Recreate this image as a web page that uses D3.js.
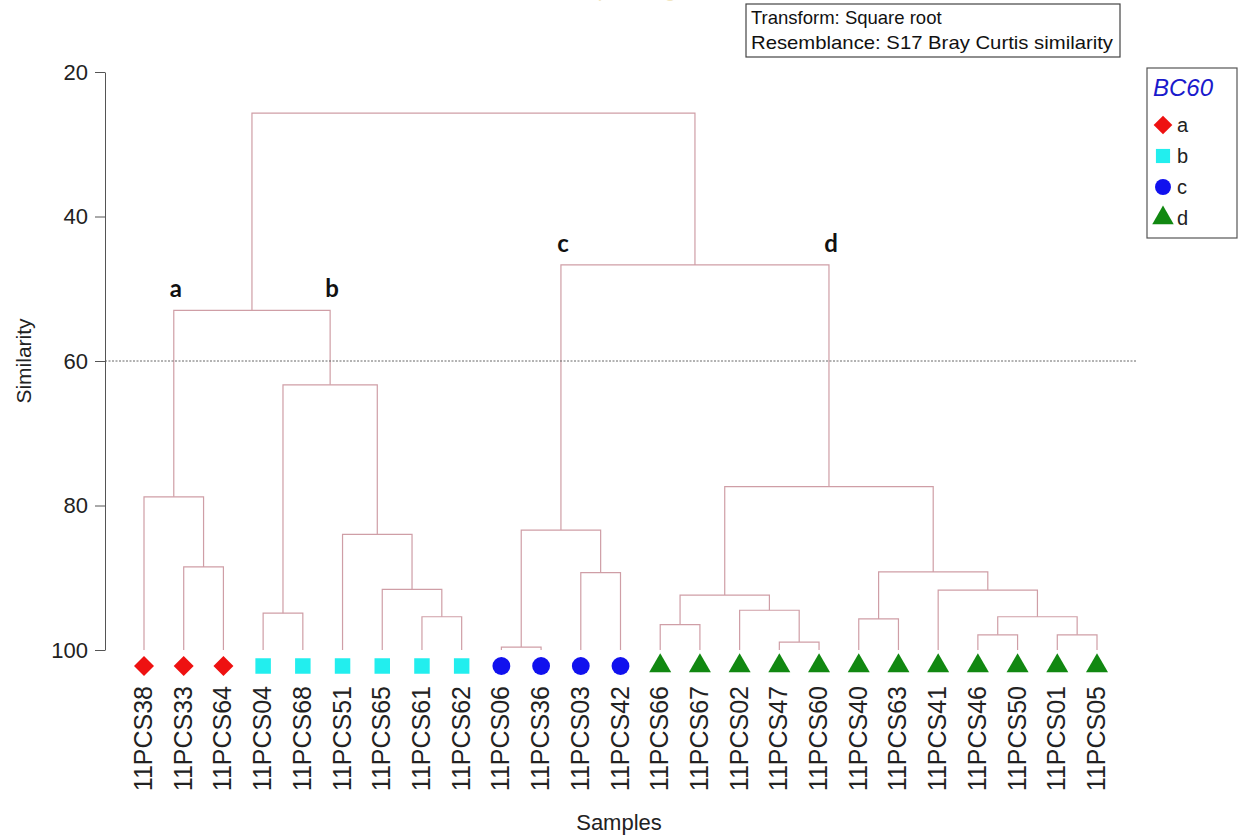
<!DOCTYPE html>
<html>
<head>
<meta charset="utf-8">
<script src="https://cdn.jsdelivr.net/npm/d3@7"></script>
<style>
  body { margin: 0; background: #fff; }
  svg { display: block; font-family: Arial, "Liberation Sans", sans-serif; }
</style>
</head>
<body>
<div id="chart"></div>
<script>
// Leaf order (left to right) and their group
const leaves = ["11PCS38", "11PCS33", "11PCS64", "11PCS04", "11PCS68", "11PCS51", "11PCS65", "11PCS61", "11PCS62",
  "11PCS06", "11PCS36", "11PCS03", "11PCS42", "11PCS66", "11PCS67", "11PCS02", "11PCS47", "11PCS60",
  "11PCS40", "11PCS63", "11PCS41", "11PCS46", "11PCS50", "11PCS01", "11PCS05"];
const leafGroups = ["a", "a", "a", "b", "b", "b", "b", "b", "b",
  "c", "c", "c", "c", "d", "d", "d", "d", "d",
  "d", "d", "d", "d", "d", "d", "d"];

// Merges: [id, left child, right child, similarity]
const merges = [
  ["m1", "11PCS33", "11PCS64", 88.5],
  ["m2", "11PCS38", "m1", 78.8],
  ["m3", "11PCS04", "11PCS68", 94.9],
  ["m4", "11PCS61", "11PCS62", 95.4],
  ["m5", "11PCS65", "m4", 91.6],
  ["m6", "11PCS51", "m5", 84.0],
  ["m7", "m3", "m6", 63.3],
  ["m8", "m2", "m7", 53.0],
  ["m9", "11PCS06", "11PCS36", 99.6],
  ["m10", "11PCS03", "11PCS42", 89.3],
  ["m11", "m9", "m10", 83.4],
  ["m12", "11PCS66", "11PCS67", 96.5],
  ["m13", "11PCS47", "11PCS60", 98.9],
  ["m14", "11PCS02", "m13", 94.5],
  ["m15", "m12", "m14", 92.4],
  ["m16", "11PCS40", "11PCS63", 95.7],
  ["m17", "11PCS46", "11PCS50", 97.9],
  ["m18", "11PCS01", "11PCS05", 97.9],
  ["m19", "m17", "m18", 95.4],
  ["m20", "11PCS41", "m19", 91.7],
  ["m21", "m16", "m20", 89.2],
  ["m22", "m15", "m21", 77.4],
  ["m23", "m11", "m22", 46.7],
  ["m24", "m8", "m23", 25.7]
];

// Cluster labels placed above the node they name
const clusterLabels = [["a", "m2"], ["b", "m7"], ["c", "m11"], ["d", "m22"]];
const groups = ["a", "b", "c", "d"];
const groupColors = ["#ee1111", "#22eeee", "#1111ee", "#118811"];
const groupSymbols = [d3.symbolSquare, d3.symbolSquare, d3.symbolCircle, d3.symbolTriangle];
const groupRotate = [45, 0, 0, 0];
const yTicks = [20, 40, 60, 80, 100];
const cutLevel = 60;

const width = 1239, height = 838;
const lineColor = "#cf9ea6";

const svg = d3.select("#chart").append("svg")
  .attr("width", width)
  .attr("height", height);

const x = d3.scalePoint().domain(leaves).range([144, 1097]);
const y = d3.scaleLinear().domain([20, 100]).range([72, 650]);
const color = d3.scaleOrdinal().domain(groups).range(groupColors);
const shape = d3.scaleOrdinal().domain(groups).range(groupSymbols);
const rot = d3.scaleOrdinal().domain(groups).range(groupRotate);
const symSize = { a: 200, b: 240, c: 250, d: 210 };

// node positions
const pos = new Map();
leaves.forEach(l => pos.set(l, { x: x(l), y: y(100) }));
merges.forEach(([id, a, b, s]) => {
  pos.set(id, { x: (pos.get(a).x + pos.get(b).x) / 2, y: y(s) });
});

// faint title, mostly above the top edge as in the source image
svg.append("text")
  .attr("x", 620).attr("y", -3)
  .attr("text-anchor", "middle")
  .style("font-size", "20px")
  .style("fill", "#f2e6c0")
  .text("Group average");

// dendrogram links
const g = svg.append("g").attr("fill", "none").attr("stroke", lineColor).attr("stroke-width", 1.2);
g.selectAll("path")
  .data(merges)
  .join("path")
  .attr("d", ([id, a, b]) => {
    const p = pos.get(id), pa = pos.get(a), pb = pos.get(b);
    return `M${pa.x},${pa.y}V${p.y}H${pb.x}V${pb.y}`;
  });

// cut line
svg.append("line")
  .attr("x1", 105).attr("x2", 1136)
  .attr("y1", y(cutLevel)).attr("y2", y(cutLevel))
  .attr("stroke", "#666")
  .attr("stroke-width", 1)
  .attr("stroke-dasharray", "2,1.5");

// y axis
const yAxis = svg.append("g")
  .attr("transform", "translate(105,0)")
  .call(d3.axisLeft(y).tickValues(yTicks).tickSize(10).tickSizeOuter(0).tickPadding(7));
yAxis.selectAll("path, line").attr("stroke", "#555");
yAxis.selectAll("text").style("font-size", "22px").style("fill", "#222").style("font-family", "Arial, 'Liberation Sans', sans-serif");

svg.append("text")
  .attr("transform", `translate(31,${y(60)}) rotate(-90)`)
  .attr("text-anchor", "middle")
  .style("font-size", "21px")
  .style("fill", "#222")
  .text("Similarity");

// leaf markers
svg.append("g").selectAll("path")
  .data(leaves)
  .join("path")
  .attr("transform", (d, i) => `translate(${x(d)},666) rotate(${rot(leafGroups[i])})`)
  .attr("d", (d, i) => d3.symbol().type(shape(leafGroups[i])).size(symSize[leafGroups[i]])())
  .attr("fill", (d, i) => color(leafGroups[i]));

// leaf labels
svg.append("g").selectAll("text")
  .data(leaves)
  .join("text")
  .attr("transform", d => `translate(${x(d) + 8},686) rotate(-90)`)
  .attr("text-anchor", "end")
  .style("font-size", "25px")
  .style("fill", "#222")
  .text(d => d);

svg.append("text")
  .attr("x", 619).attr("y", 830)
  .attr("text-anchor", "middle")
  .style("font-size", "22px")
  .style("fill", "#222")
  .text("Samples");

// cluster letters
const parentOf = new Map();
merges.forEach(([id, a, b]) => { parentOf.set(a, id); parentOf.set(b, id); });
svg.append("g").selectAll("text")
  .data(clusterLabels)
  .join("text")
  .attr("x", d => pos.get(d[1]).x + 2)
  .attr("y", d => pos.get(parentOf.get(d[1])).y - 13)
  .attr("text-anchor", "middle")
  .style("font-family", "Lato, 'Open Sans', sans-serif")
  .style("font-weight", "700")
  .style("font-size", "24px")
  .style("fill", "#111")
  .text(d => d[0]);

// info box
const info = svg.append("g").attr("transform", "translate(746,4)");
info.append("rect").attr("width", 374).attr("height", 53)
  .attr("fill", "#fff").attr("stroke", "#444").attr("stroke-width", 1.2);
info.append("text").attr("x", 5).attr("y", 20).style("font-size", "18.5px").style("fill", "#111")
  .text("Transform: Square root");
info.append("text").attr("x", 5).attr("y", 45).style("font-size", "18.5px").style("fill", "#111")
  .attr("textLength", 362).attr("lengthAdjust", "spacingAndGlyphs")
  .text("Resemblance: S17 Bray Curtis similarity");

// legend
const legend = svg.append("g").attr("transform", "translate(1147,68)");
legend.append("rect").attr("width", 90).attr("height", 170)
  .attr("fill", "#fff").attr("stroke", "#555").attr("stroke-width", 1.2);
legend.append("text").attr("x", 6).attr("y", 28)
  .style("font-size", "24px").style("font-style", "italic").style("fill", "#1a1acc")
  .text("BC60");
const items = legend.selectAll("g.item")
  .data(groups)
  .join("g")
  .attr("class", "item")
  .attr("transform", (d, i) => `translate(16,${57 + i * 31})`);
items.append("path")
  .attr("transform", d => `rotate(${rot(d)})`)
  .attr("d", d => d3.symbol().type(shape(d)).size(d === "a" ? 175 : 200)())
  .attr("fill", d => color(d));
items.append("text").attr("x", 14).attr("y", 7)
  .style("font-size", "20px").style("fill", "#222")
  .text(d => d);
</script>
</body>
</html>
